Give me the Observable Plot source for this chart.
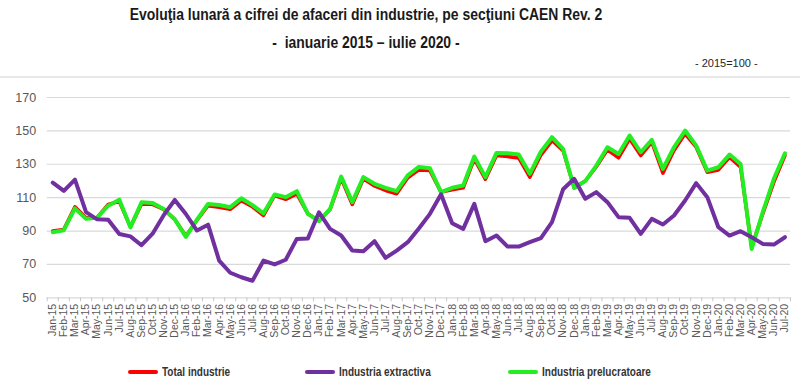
<!DOCTYPE html>
<html><head><meta charset="utf-8">
<script src="https://cdn.jsdelivr.net/npm/d3@7"></script>
<script src="https://cdn.jsdelivr.net/npm/@observablehq/plot@0.6"></script>
<style>
body{margin:0;background:#fff;}
#wrap{position:relative;width:800px;height:389px;overflow:hidden;background:#fff;font-family:"Liberation Sans",Arial,sans-serif;}
.t{position:absolute;left:0;width:732px;text-align:center;font-weight:bold;font-size:16px;color:#1a1a1a;white-space:nowrap;transform:scaleX(0.87);transform-origin:366px 50%;}
#unit{position:absolute;left:695px;top:57px;font-size:11px;color:#262626;white-space:nowrap;}
#sep{position:absolute;left:0;top:76px;width:800px;height:2px;background:#e8e8e8;}
#chart{position:absolute;left:0;top:80px;}
.lg{position:absolute;top:364px;height:16px;display:flex;align-items:center;font-weight:bold;font-size:12.5px;color:#333;white-space:nowrap;}
.lg span{display:inline-block;transform:scaleX(0.8);transform-origin:0 50%;}
.sw{width:30px;height:4px;margin-right:4px;border-radius:2px;}
</style></head>
<body><div id="wrap">
<div class="t" style="top:6px">Evoluţia lunară a cifrei de afaceri din industrie, pe secţiuni CAEN Rev. 2</div>
<div class="t" style="top:34px">-&nbsp; ianuarie 2015 – iulie 2020 -</div>
<div id="unit">- 2015=100 -</div>
<div id="sep"></div>
<div id="chart"></div>
</div>
<script>
const months = ["Jan-15","Feb-15","Mar-15","Apr-15","May-15","Jun-15","Jul-15","Aug-15","Sep-15","Oct-15","Nov-15","Dec-15",
"Jan-16","Feb-16","Mar-16","Apr-16","May-16","Jun-16","Jul-16","Aug-16","Sep-16","Oct-16","Nov-16","Dec-16",
"Jan-17","Feb-17","Mar-17","Apr-17","May-17","Jun-17","Jul-17","Aug-17","Sep-17","Oct-17","Nov-17","Dec-17",
"Jan-18","Feb-18","Mar-18","Apr-18","May-18","Jun-18","Jul-18","Aug-18","Sep-18","Oct-18","Nov-18","Dec-18",
"Jan-19","Feb-19","Mar-19","Apr-19","May-19","Jun-19","Jul-19","Aug-19","Sep-19","Oct-19","Nov-19","Dec-19",
"Jan-20","Feb-20","Mar-20","Apr-20","May-20","Jun-20","Jul-20"];

const totalIndustrie = [90,91,104.5,98,98,106,107.7,92.5,106,106,103,97,
87,96.5,105.2,104.2,103,108.2,104.5,99.3,111.3,109,112.3,100.3,
96,103,121.5,105.9,121.3,117,114.3,112.3,121.9,126.6,126.2,113.3,
114.7,115.9,133.2,121,135.2,134.6,133.8,122.3,135.5,144.2,138.2,116,
120,128.5,138.6,133.8,145.2,135.2,143.2,124.7,138.2,148.2,140.2,125.2,
126.6,134.2,128.2,80.5,100.3,119.3,135.2];

const industriaExtractiva = [119,114,120.8,101.3,97,96.7,88.2,86.8,81.5,88.4,99.5,108.6,
100.2,90.3,93.8,72.3,65,62.3,60.2,72.3,70,72.8,85.3,85.6,
101.2,91.3,87.3,78.3,77.9,83.9,73.9,78.3,83.3,91.5,100.3,112,
94.7,91.3,106.3,83.9,87.3,80.7,80.7,83.3,85.8,95.3,115,121.3,
109.3,113.3,107.3,98.3,97.9,88.3,97.3,93.9,99.3,108.3,118.7,110.3,
92.3,87.3,89.9,86.3,82.3,81.9,86.3];

const industriaPrelucratoare = [89.3,90.5,103.6,97.3,98,105.2,108.8,92.2,107.2,106.8,103.2,97,
86.5,96.8,106.2,105.6,104.3,109.6,105.5,100.6,111.9,110.3,113.9,100.3,
95.9,103.3,122.6,107.3,122.3,118.3,115.9,113.9,123.3,128.4,127.6,113.3,
115.9,117.3,134.6,122.3,136.8,136.6,135.8,124.3,137.5,146.2,139.2,115.8,
119.9,129.2,140.2,136.2,147.2,137.2,144.6,127.2,140.2,150.2,141.2,126.2,
128.2,135.8,130.2,79.3,101.3,121.3,136.6];

const yTicks = [50,70,90,110,130,150,170];
const seriesNames = ["Total industrie","Industria extractiva","Industria prelucratoare"];
const seriesColors = ["#ff0000","#7030a0","#22ee22"];

const series = [
  {name: seriesNames[0], values: totalIndustrie, color: seriesColors[0], w: 3.5, leg: 128},
  {name: seriesNames[1], values: industriaExtractiva, color: seriesColors[1], w: 4, leg: 305},
  {name: seriesNames[2], values: industriaPrelucratoare, color: seriesColors[2], w: 4, leg: 508}
];

const idx = d3.range(months.length);
const bounds = d3.range(months.length + 1).map(i => i - 0.5);

const chart = Plot.plot({
  width: 800, height: 270,
  marginTop: 17, marginBottom: 52.7, marginLeft: 46.7, marginRight: 10,
  style: {fontFamily: "'Liberation Sans', Arial, sans-serif", color: "#595959", background: "transparent"},
  x: {type: "linear", domain: [-0.5, months.length - 0.5], axis: null},
  y: {domain: [50, 170], axis: null},
  marks: [
    Plot.gridY(yTicks, {stroke: "#d9d9d9", strokeOpacity: 1, strokeWidth: 1.2}),
    Plot.axisY(yTicks, {tickSize: 0, tickPadding: 11, fontSize: 12.5, fill: "#595959"}),
    Plot.axisX(bounds, {tickSize: 4, tickFormat: () => "", stroke: "#c8c8c8"}),
    Plot.axisX(idx, {tickSize: 0, tickPadding: 6, tickRotate: -90, fontSize: 10.5, fill: "#595959", tickFormat: i => months[i]}),
    ...[0, 2, 1].map(k => Plot.line(series[k].values, {
      x: (d, i) => i, y: d => d, stroke: series[k].color, strokeWidth: series[k].w,
      strokeLinejoin: "round", strokeLinecap: "round"
    }))
  ]
});
document.getElementById("chart").appendChild(chart);

const wrap = document.getElementById("wrap");
series.forEach(s => {
  const d = document.createElement("div");
  d.className = "lg";
  d.style.left = s.leg + "px";
  const sw = document.createElement("div");
  sw.className = "sw"; sw.style.background = s.color;
  const tx = document.createElement("span");
  tx.textContent = s.name;
  d.appendChild(sw); d.appendChild(tx);
  wrap.appendChild(d);
});
</script>
</body></html>
